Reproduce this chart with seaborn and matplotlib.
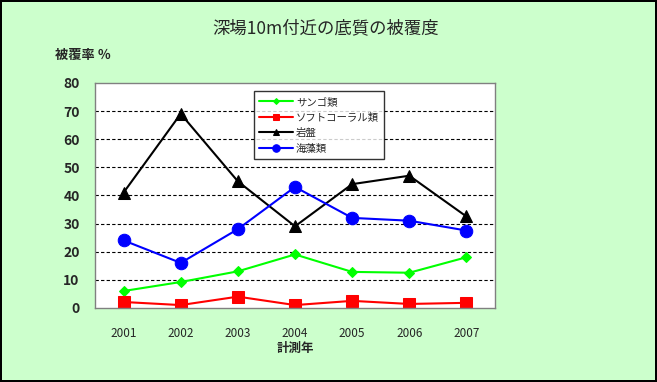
import numpy as np
import pandas as pd
import matplotlib.pyplot as plt
import seaborn as sns

sns.set_style('white')
plt.rcParams['font.family'] = ['Noto Sans CJK JP', 'DejaVu Sans']

# データ
years = ['2001', '2002', '2003', '2004', '2005', '2006', '2007']
coral = [6.0, 9.2, 13.0, 19.0, 12.8, 12.5, 18.0]
soft_coral = [2.1, 1.0, 4.0, 1.0, 2.5, 1.4, 1.8]
rock = [41.0, 69.0, 45.0, 29.0, 44.0, 47.0, 32.5]
algae = [24.0, 16.0, 28.0, 43.0, 32.0, 31.0, 27.5]

series = [('サンゴ類', coral, '#00FF00', 'D', 5),
          ('ソフトコーラル類', soft_coral, '#FF0000', 's', 8),
          ('岩盤', rock, '#000000', '^', 8),
          ('海藻類', algae, '#0000FF', 'o', 9)]

fig = plt.figure(figsize=(6.57, 3.82), dpi=100, facecolor='#CCFFCC',
                 edgecolor='black', linewidth=1.5)
ax = fig.add_axes([0.1446, 0.194, 0.6088, 0.589])
ax.set_facecolor('white')

x = np.arange(len(years))
for name, vals, col, mk, ms in series:
    sns.lineplot(x=x, y=vals, ax=ax, color=col, marker=mk, markersize=ms,
                 markeredgecolor=col, linewidth=1.5, label=name)

ax.set_xlim(-0.5, len(years) - 0.5)
ax.set_ylim(0, 80)
ax.set_yticks(np.arange(0, 81, 10))
ax.set_yticklabels([str(v) for v in range(0, 81, 10)], fontsize=10, fontweight='bold')
ax.set_xticks(x)
ax.set_xticklabels(years, fontsize=8.5)
ax.set_xticks(np.arange(-0.5, len(years)), minor=True)
ax.tick_params(axis='x', which='major', length=0, pad=14)
ax.tick_params(axis='x', which='minor', length=4, direction='out', color='gray')
ax.tick_params(axis='y', length=3, direction='out', color='gray', pad=8)

# 目盛線
for v in range(10, 80, 10):
    ax.axhline(v, color='black', linestyle=(0, (3, 2)), linewidth=0.8, zorder=0)

for s in ax.spines.values():
    s.set_color('gray')
    s.set_linewidth(1)

leg = ax.legend(loc='upper left', bbox_to_anchor=(0.385, 0.985), fontsize=7.5,
                frameon=True, fancybox=False, edgecolor='black', markerscale=0.6,
                handlelength=3.2, borderpad=0.5, labelspacing=0.55, handletextpad=0.3)
leg.get_frame().set_linewidth(1)

fig.text(0.495, 0.925, '深場10m付近の底質の被覆度', ha='center', va='center', fontsize=12.5)
fig.text(0.083, 0.855, '被覆率 ％', ha='left', va='center', fontsize=9.5, fontweight='bold')
fig.text(0.449, 0.088, '計測年', ha='center', va='center', fontsize=9, fontweight='bold')

plt.savefig('out.png', dpi=100, facecolor=fig.get_facecolor(), edgecolor='black')
